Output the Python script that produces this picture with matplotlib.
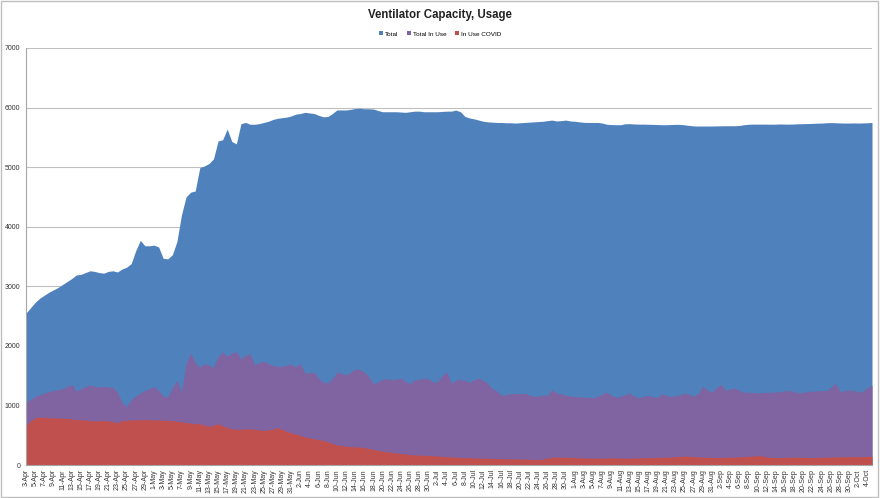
import pandas as pd
import matplotlib
matplotlib.use("Agg")
import matplotlib.pyplot as plt
from matplotlib.patches import Rectangle

# -----------------------------
# Data (one value per day, 3-Apr .. 5-Oct)
# -----------------------------

dates = pd.date_range("2020-04-03", periods=186, freq="D")
tick_labels = [f"{d.day}-{d.strftime('%b')}" for d in dates]

total = [
    2550, 2640, 2730, 2800, 2850, 2900, 2940, 2980, 3030, 3080,
    3130, 3190, 3200, 3230, 3260, 3250, 3230, 3220, 3250, 3260,
    3240, 3290, 3320, 3380, 3600, 3770, 3680, 3680, 3690, 3660,
    3470, 3460, 3530, 3750, 4200, 4500, 4580, 4600, 4990, 5020,
    5060, 5140, 5440, 5460, 5640, 5430, 5390, 5730, 5750, 5720,
    5720, 5730, 5750, 5770, 5800, 5820, 5830, 5840, 5860, 5890,
    5900, 5920, 5910, 5900, 5870, 5845, 5850, 5900, 5960, 5960,
    5960, 5970, 5985, 5990, 5980, 5980, 5975, 5950, 5930, 5930,
    5930, 5930, 5925, 5920, 5930, 5940, 5940, 5930, 5930, 5930,
    5930, 5935, 5940, 5940, 5958, 5930, 5850, 5825, 5810, 5790,
    5770, 5760, 5755, 5750, 5750, 5745, 5745, 5740, 5745, 5750,
    5755, 5760, 5765, 5770, 5780, 5790, 5775, 5780, 5790, 5775,
    5770, 5760, 5752, 5750, 5750, 5750, 5740, 5720, 5715, 5712,
    5712, 5728, 5730, 5725, 5722, 5722, 5720, 5718, 5715, 5712,
    5712, 5715, 5718, 5718, 5710, 5700, 5692, 5690, 5690, 5690,
    5690, 5692, 5694, 5695, 5695, 5695, 5700, 5712, 5720, 5722,
    5722, 5722, 5722, 5720, 5722, 5725, 5722, 5722, 5725, 5728,
    5730, 5732, 5735, 5738, 5740, 5745, 5748, 5745, 5742, 5740,
    5740, 5742, 5740, 5742, 5745, 5750,
]

total_in_use = [
    1055, 1100, 1150, 1180, 1210, 1230, 1250, 1265, 1280, 1320,
    1350, 1240, 1280, 1320, 1340, 1320, 1310, 1320, 1310, 1300,
    1220, 1050, 980, 1100, 1160, 1210, 1250, 1280, 1320, 1250,
    1160, 1140, 1300, 1420, 1230, 1700, 1880, 1720, 1640, 1700,
    1680, 1640, 1820, 1900, 1820, 1880, 1900, 1780, 1840, 1870,
    1680, 1720, 1740, 1700, 1670, 1660, 1655, 1680, 1690, 1650,
    1700, 1540, 1550, 1560, 1450, 1390, 1380, 1450, 1560, 1540,
    1510, 1560, 1610, 1600, 1560, 1480, 1365, 1400, 1440, 1450,
    1430, 1440, 1460, 1400, 1370, 1430, 1440, 1460, 1450, 1390,
    1400, 1500, 1560, 1380, 1420, 1440, 1420, 1390, 1430, 1460,
    1420, 1365, 1280, 1240, 1170, 1180, 1196, 1200, 1200, 1205,
    1180, 1150, 1160, 1170, 1168, 1264, 1210, 1196, 1168, 1160,
    1150, 1145, 1140, 1135, 1130, 1150, 1190, 1224, 1170, 1140,
    1150, 1180, 1208, 1150, 1130, 1150, 1168, 1150, 1130, 1196,
    1170, 1150, 1160, 1180, 1208, 1190, 1160, 1200, 1320, 1260,
    1224, 1300, 1353, 1250, 1280, 1290, 1250, 1224, 1220, 1215,
    1210, 1215, 1220, 1224, 1224, 1235, 1245, 1250, 1230, 1210,
    1220, 1235, 1240, 1245, 1250, 1250, 1300, 1375, 1235, 1245,
    1260, 1250, 1224, 1240, 1300, 1336,
]

in_use_covid = [
    664, 740, 790, 803, 800, 795, 790, 790, 785, 780,
    775, 760, 760, 755, 745, 737, 745, 745, 740, 725,
    709, 745, 750, 755, 760, 760, 760, 760, 758, 755,
    750, 748, 745, 735, 725, 714, 705, 695, 692, 670,
    647, 670, 692, 660, 625, 610, 597, 600, 605, 608,
    600, 590, 580, 590, 600, 625, 600, 563, 540, 520,
    495, 467, 455, 440, 425, 412, 390, 360, 335, 325,
    315, 310, 305, 300, 290, 275, 260, 245, 232, 222,
    212, 202, 192, 184, 176, 170, 166, 162, 160, 155,
    150, 145, 140, 135, 131, 128, 125, 122, 118, 116,
    115, 112, 110, 108, 106, 105, 104, 103, 100, 98,
    96, 94, 92, 100, 115, 130, 131, 131, 130, 128,
    125, 120, 118, 116, 115, 115, 115, 118, 120, 118,
    116, 115, 115, 118, 120, 122, 124, 125, 126, 128,
    130, 135, 140, 145, 148, 145, 140, 135, 132, 130,
    128, 125, 125, 128, 130, 135, 138, 140, 145, 150,
    160, 150, 135, 125, 125, 125, 128, 130, 132, 130,
    128, 125, 125, 128, 130, 130, 132, 135, 138, 140,
    142, 140, 138, 140, 145, 145,
]

x = list(range(len(dates)))

# -----------------------------
# Figure
# -----------------------------

plt.rcParams["font.family"] = ["Liberation Sans", "DejaVu Sans"]

fig = plt.figure(figsize=(8.8, 4.98), dpi=100)
ax = fig.add_axes([26 / 880, 33 / 498, 846 / 880, 417 / 498])

ax.fill_between(x, 0, total, color="#4F81BD", linewidth=0, label="Total")
ax.fill_between(x, 0, total_in_use, color="#8064A2", linewidth=0, label="Total In Use")
ax.fill_between(x, 0, in_use_covid, color="#C0504D", linewidth=0, label="In Use COVID")

ax.set_xlim(0, len(x) - 1)
ax.set_ylim(0, 7000)
ax.set_yticks(range(0, 7001, 1000))
ax.tick_params(axis="y", labelsize=5, length=0, pad=4, colors="#333333")

ax.set_xticks(x[::2])
ax.set_xticklabels(tick_labels[::2], rotation=90)
ax.tick_params(axis="x", labelsize=5, length=0, pad=3, colors="#333333")

ax.grid(axis="y", color="#BFBFBF", linewidth=0.8)
ax.set_axisbelow(True)
for side in ["top", "right"]:
    ax.spines[side].set_visible(False)
ax.spines["left"].set_color("#A6A6A6")
ax.spines["bottom"].set_color("#A6A6A6")

fig.text(0.5, 1 - 15 / 498, "Ventilator Capacity, Usage", ha="center", va="center",
         fontsize=8.3, fontweight="bold", color="#222222")

handles, labels = ax.get_legend_handles_labels()
fig.legend(handles, labels, loc="center", bbox_to_anchor=(0.5, 1 - 34 / 498), ncol=3,
           frameon=False, fontsize=4.6, handlelength=0.6, handleheight=0.6,
           handletextpad=0.3, columnspacing=1.4)

fig.patches.append(Rectangle((0.001, 0.002), 0.997, 0.995, transform=fig.transFigure,
                             fill=False, edgecolor="#BFBFBF", linewidth=1))

plt.savefig("out.png", dpi=100)
plt.close()
